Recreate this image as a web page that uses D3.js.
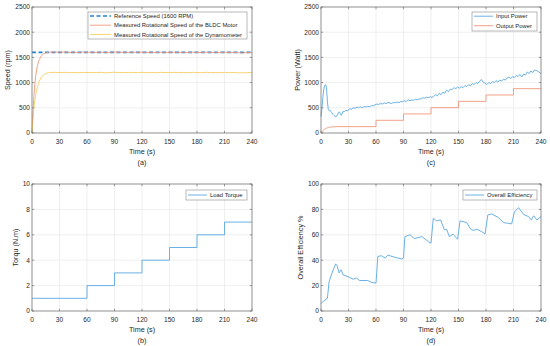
<!DOCTYPE html>
<html>
<head>
<meta charset="utf-8">
<script src="https://cdn.jsdelivr.net/npm/d3@7"></script>
<style>
  body { margin: 0; background: #fff; }
  svg text { font-family: "Liberation Sans", Arial, sans-serif; fill: #262626; }
</style>
</head>
<body>
<svg id="chart" width="550" height="346"></svg>
<script>
// ---- data ----
var xTicks = [0, 30, 60, 90, 120, 150, 180, 210, 240];

// (a) speed
var speedTime = [0, 1, 2, 3, 4, 5, 6, 7, 8, 10, 12, 14, 16, 18, 20, 25, 30, 35, 40, 45, 50, 55, 60, 65, 70, 75, 80, 85, 90, 95, 100, 105, 110, 115, 120, 125, 130, 135, 140, 145, 150, 155, 160, 165, 170, 175, 180, 185, 190, 195, 200, 205, 210, 215, 220, 225, 230, 235, 240];
var refSpeed = [1600, 1600];
var refTime = [0, 240];
var motorSpeed = [0, 400, 720, 960, 1130, 1250, 1340, 1410, 1460, 1525, 1565, 1585, 1595, 1600, 1603, 1606, 1602, 1608, 1598, 1604, 1596, 1606, 1600, 1603, 1597, 1605, 1594, 1602, 1607, 1598, 1604, 1596, 1603, 1599, 1606, 1597, 1602, 1595, 1604, 1600, 1597, 1605, 1598, 1602, 1594, 1603, 1600, 1596, 1604, 1598, 1601, 1595, 1603, 1597, 1600, 1593, 1590, 1598, 1600];
var dynoSpeed = [0, 250, 480, 640, 760, 850, 920, 980, 1030, 1100, 1145, 1170, 1187, 1195, 1200, 1203, 1198, 1204, 1197, 1201, 1196, 1203, 1199, 1202, 1197, 1204, 1195, 1201, 1205, 1197, 1202, 1196, 1203, 1198, 1204, 1196, 1201, 1195, 1203, 1199, 1197, 1204, 1198, 1202, 1195, 1203, 1199, 1196, 1204, 1198, 1201, 1196, 1203, 1197, 1200, 1195, 1194, 1198, 1200];

// (b) torque
var torqueTime = [0, 60, 90, 120, 150, 180, 210, 240];
var loadTorque = [1, 2, 3, 4, 5, 6, 7, 7];

// (c) power
var inputTime = [0, 1, 2, 3, 4, 5, 6, 7, 8, 9, 10, 11, 12, 13, 14, 15, 16, 17, 18, 19, 20, 21, 22, 23, 24, 25, 27, 29, 31, 33, 35, 37, 39, 41, 43, 45, 47, 49, 51, 53, 55, 57, 59, 61, 63, 65, 67, 69, 71, 73, 75, 77, 79, 81, 83, 85, 87, 89, 91, 93, 95, 97, 99, 101, 103, 105, 107, 109, 111, 113, 115, 117, 119, 121, 123, 125, 127, 129, 131, 133, 135, 137, 139, 141, 143, 145, 147, 149, 151, 153, 155, 157, 159, 161, 163, 165, 167, 169, 171, 173, 175, 177, 179, 181, 183, 185, 187, 189, 191, 193, 195, 197, 199, 201, 203, 205, 207, 209, 211, 213, 215, 217, 219, 221, 223, 225, 227, 229, 231, 233, 235, 237, 239, 240];
var inputPower = [330, 480, 700, 870, 940, 960, 900, 620, 460, 440, 450, 420, 400, 370, 350, 335, 325, 330, 360, 400, 420, 390, 350, 380, 430, 420, 450, 440, 480, 470, 500, 490, 510, 505, 520, 500, 525, 515, 530, 520, 545, 540, 560, 575, 565, 590, 575, 600, 580, 610, 595, 585, 605, 600, 615, 600, 625, 620, 640, 625, 660, 640, 655, 650, 670, 660, 680, 670, 700, 690, 710, 700, 720, 705, 730, 760, 740, 790, 760, 810, 790, 850, 820, 870, 860, 900, 880, 910, 890, 920, 900, 940, 920, 960, 940, 980, 960, 1000, 980, 1030, 1060, 1010, 990, 960, 1000, 980, 1020, 1000, 1040, 1010, 1050, 1030, 1070, 1050, 1090, 1110, 1080, 1120, 1100, 1140, 1120, 1160, 1110, 1170, 1150, 1210, 1180, 1230, 1200, 1250, 1240, 1220, 1190, 1180];
var outputTime = [0, 1, 2, 3, 4, 5, 6, 7, 8, 10, 12, 15, 20, 30, 60, 60, 90, 90, 120, 120, 150, 150, 180, 180, 210, 210, 240];
var outputPower = [0, 20, 45, 63, 78, 89, 97, 104, 110, 117, 121, 124, 126, 126, 126, 252, 252, 378, 378, 503, 503, 628, 628, 754, 754, 880, 880];

// (d) efficiency
var effTime = [0, 3, 7, 8.8, 13, 16, 17.5, 19.7, 22, 24, 29.5, 35, 38.7, 42, 51, 55, 60, 62, 66, 70, 73, 80, 88, 90, 91.5, 97, 102, 110, 117, 120, 122.5, 126, 130.5, 134.6, 137, 140, 144, 149, 151.7, 159, 162.7, 166, 170, 175, 179, 182, 186, 193.7, 199, 204.6, 208, 211, 215.5, 221, 226.5, 229.4, 232, 235.6, 240];
var efficiency = [5.8, 8, 10, 23, 32, 37, 36, 30, 32.5, 28.5, 27, 25, 26, 24, 24, 22.5, 22, 43, 43.5, 41.6, 44, 42.4, 41, 41.6, 58.6, 60, 57, 58.6, 54.7, 53.4, 73, 71, 71.7, 63.9, 64.4, 58.6, 60.5, 56.5, 71, 69.6, 65, 63.4, 64.4, 62.6, 60.7, 75.7, 76.4, 73.6, 69.6, 69, 68.6, 78, 81.4, 76, 74.3, 71.7, 75, 71.7, 74.3];

var cBlue = "#5aa8e3", cRef = "#2185d6", cOrange = "#f0967a", cYellow = "#f6cd62";

var svg = d3.select("#chart");

function zip(xs, ys) { return xs.map(function(x, i) { return [x, ys[i]]; }); }

function panel(cfg) {
    var x = d3.scaleLinear().domain([0, 240]).range([cfg.left, cfg.right]);
    var y = d3.scaleLinear().domain([0, cfg.ymax]).range([cfg.bottom, cfg.top]);
    var g = svg.append("g");
    var yTicks = d3.range(0, cfg.ymax + cfg.ystep / 2, cfg.ystep);

    // grid
    g.selectAll("line.gx").data(xTicks).enter().append("line")
        .attr("x1", function(d) { return x(d); }).attr("x2", function(d) { return x(d); })
        .attr("y1", cfg.top).attr("y2", cfg.bottom)
        .attr("stroke", "#e4e4e4").attr("stroke-width", 0.6);
    g.selectAll("line.gy").data(yTicks).enter().append("line")
        .attr("y1", function(d) { return y(d); }).attr("y2", function(d) { return y(d); })
        .attr("x1", cfg.left).attr("x2", cfg.right)
        .attr("stroke", "#e4e4e4").attr("stroke-width", 0.6);

    // series
    cfg.series.forEach(function(s) {
        var line = d3.line().x(function(d) { return x(d[0]); }).y(function(d) { return y(d[1]); });
        if (s.step) line.curve(d3.curveStepAfter);
        g.append("path").datum(zip(s.t, s.v))
            .attr("fill", "none").attr("stroke", s.color)
            .attr("stroke-width", s.width || 0.9)
            .attr("stroke-dasharray", s.dash || null)
            .attr("d", line);
    });

    // box + inward ticks
    g.append("rect").attr("x", cfg.left).attr("y", cfg.top)
        .attr("width", cfg.right - cfg.left).attr("height", cfg.bottom - cfg.top)
        .attr("fill", "none").attr("stroke", "#6e6e6e").attr("stroke-width", 0.7);
    var tk = 2.2;
    xTicks.forEach(function(d) {
        g.append("line").attr("x1", x(d)).attr("x2", x(d)).attr("y1", cfg.bottom).attr("y2", cfg.bottom - tk)
            .attr("stroke", "#6e6e6e").attr("stroke-width", 0.7);
        g.append("line").attr("x1", x(d)).attr("x2", x(d)).attr("y1", cfg.top).attr("y2", cfg.top + tk)
            .attr("stroke", "#6e6e6e").attr("stroke-width", 0.7);
    });
    yTicks.forEach(function(d) {
        g.append("line").attr("x1", cfg.left).attr("x2", cfg.left + tk).attr("y1", y(d)).attr("y2", y(d))
            .attr("stroke", "#6e6e6e").attr("stroke-width", 0.7);
        g.append("line").attr("x1", cfg.right).attr("x2", cfg.right - tk).attr("y1", y(d)).attr("y2", y(d))
            .attr("stroke", "#6e6e6e").attr("stroke-width", 0.7);
    });

    // tick labels
    g.selectAll("text.xt").data(xTicks).enter().append("text")
        .attr("x", function(d) { return x(d); }).attr("y", cfg.bottom + 10.5)
        .attr("text-anchor", "middle").attr("font-size", "6.6px").text(String);
    g.selectAll("text.yt").data(yTicks).enter().append("text")
        .attr("x", cfg.left - 2).attr("y", function(d) { return y(d) + 2.3; })
        .attr("text-anchor", "end").attr("font-size", "6.6px").text(String);

    // labels
    g.append("text").attr("x", (cfg.left + cfg.right) / 2).attr("y", cfg.bottom + 20.5)
        .attr("text-anchor", "middle").attr("font-size", "7.2px").text("Time (s)");
    g.append("text").attr("x", (cfg.left + cfg.right) / 2).attr("y", cfg.bottom + 32)
        .attr("text-anchor", "middle").attr("font-size", "7.2px").text(cfg.caption);
    g.append("text").attr("transform", "translate(" + (cfg.ylabX + 2.5) + "," + ((cfg.top + cfg.bottom) / 2) + ") rotate(-90)")
        .attr("text-anchor", "middle").attr("font-size", "7.2px").text(cfg.ylabel);

    // legend
    var L = cfg.legend;
    g.append("rect").attr("x", L.x).attr("y", L.y).attr("width", L.w).attr("height", L.h)
        .attr("fill", "#fff").attr("stroke", "#8a8a8a").attr("stroke-width", 0.6);
    cfg.series.forEach(function(s, i) {
        var ly = L.y + L.pad + L.row * i;
        g.append("line").attr("x1", L.x + 2).attr("x2", L.x + 2 + L.sample)
            .attr("y1", ly).attr("y2", ly)
            .attr("stroke", s.color).attr("stroke-width", s.width || 0.9)
            .attr("stroke-dasharray", s.dash || null);
        g.append("text").attr("x", L.x + 5 + L.sample).attr("y", ly + 2.1)
            .attr("font-size", "5.9px").text(s.name);
    });
}

panel({
    left: 32, right: 252, top: 7, bottom: 133, ymax: 2500, ystep: 500,
    ylabel: "Speed (rpm)", ylabX: 7, caption: "(a)",
    legend: { x: 88, y: 12, w: 159, h: 27, pad: 4, row: 9.2, sample: 21 },
    series: [
        { name: "Reference Speed (1600 RPM)", t: refTime, v: refSpeed, color: cRef, width: 1.6, dash: "4,2.5" },
        { name: "Measured Rotational Speed of the BLDC Motor", t: speedTime, v: motorSpeed, color: cOrange },
        { name: "Measured Rotational Speed of the Dynamometer", t: speedTime, v: dynoSpeed, color: cYellow }
    ]
});
panel({
    left: 321, right: 541, top: 7, bottom: 133, ymax: 2500, ystep: 500,
    ylabel: "Power (Watt)", ylabX: 297, caption: "(c)",
    legend: { x: 472, y: 12, w: 65, h: 19, pad: 4.2, row: 9.5, sample: 19 },
    series: [
        { name: "Input Power", t: inputTime, v: inputPower, color: cBlue },
        { name: "Output Power", t: outputTime, v: outputPower, color: cOrange }
    ]
});
panel({
    left: 32, right: 252, top: 184, bottom: 311, ymax: 10, ystep: 2,
    ylabel: "Torqu (N.m)", ylabX: 15, caption: "(b)",
    legend: { x: 186, y: 190, w: 61, h: 10, pad: 5, row: 0, sample: 19 },
    series: [
        { name: "Load Torque", t: torqueTime, v: loadTorque, color: cBlue, step: true }
    ]
});
panel({
    left: 321, right: 541, top: 184, bottom: 311, ymax: 100, ystep: 20,
    ylabel: "Overall Efficiency %", ylabX: 300, caption: "(d)",
    legend: { x: 463, y: 190, w: 74, h: 10, pad: 5, row: 0, sample: 19 },
    series: [
        { name: "Overall Efficiency", t: effTime, v: efficiency, color: cBlue }
    ]
});
</script>
</body>
</html>
